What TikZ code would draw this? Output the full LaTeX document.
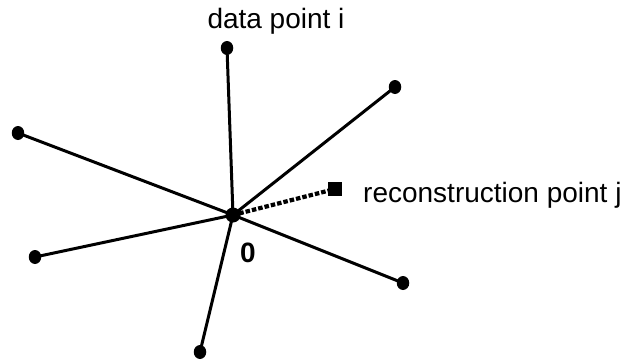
\documentclass[tikz,border=0pt]{standalone}
\usepackage{fontspec}
\setmainfont{Liberation Sans}
\usetikzlibrary{shapes.geometric}
\begin{document}
\begin{tikzpicture}[x=1pt,y=-1pt,
  dotnode/.style={ellipse,fill=black,inner sep=0pt,minimum width=12.5pt,minimum height=14pt},
  hub/.style={circle,fill=black,inner sep=0pt,minimum size=15pt},
  sqnode/.style={rectangle,fill=black,inner sep=0pt,minimum size=14pt},
  spoke/.style={line width=3pt},
  recon/.style={line width=4.2pt,dash pattern=on 4.5pt off 2pt},
  lbl/.style={font=\fontsize{28}{31}\selectfont,inner sep=0pt}]
  \useasboundingbox (0,0) rectangle (627,362);
  % origin and data points
  \node[hub] (o) at (233,215) {};
  \node[dotnode] (p1) at (227,48) {};
  \node[dotnode] (p2) at (395,87) {};
  \node[dotnode] (p3) at (18,133) {};
  \node[dotnode] (p4) at (35,257) {};
  \node[dotnode] (p5) at (200,352) {};
  \node[dotnode] (p6) at (403,283) {};
  \node[sqnode] (r) at (335,189) {};
  % spokes from the origin
  \foreach \p in {p1,p2,p3,p4,p5,p6}
    \draw[spoke] (o.center) -- (\p.center);
  \draw[recon] (o.center) -- (r.center);
  % labels
  \node[lbl,anchor=base] (ldata) at (276,28) {data point i};
  \node[lbl,anchor=base west] (lrec) at (363,202) {reconstruction point j};
  \node[lbl,anchor=base,font=\fontsize{28}{31}\selectfont\bfseries] (lzero) at (248,262) {0};
\end{tikzpicture}
\end{document}
